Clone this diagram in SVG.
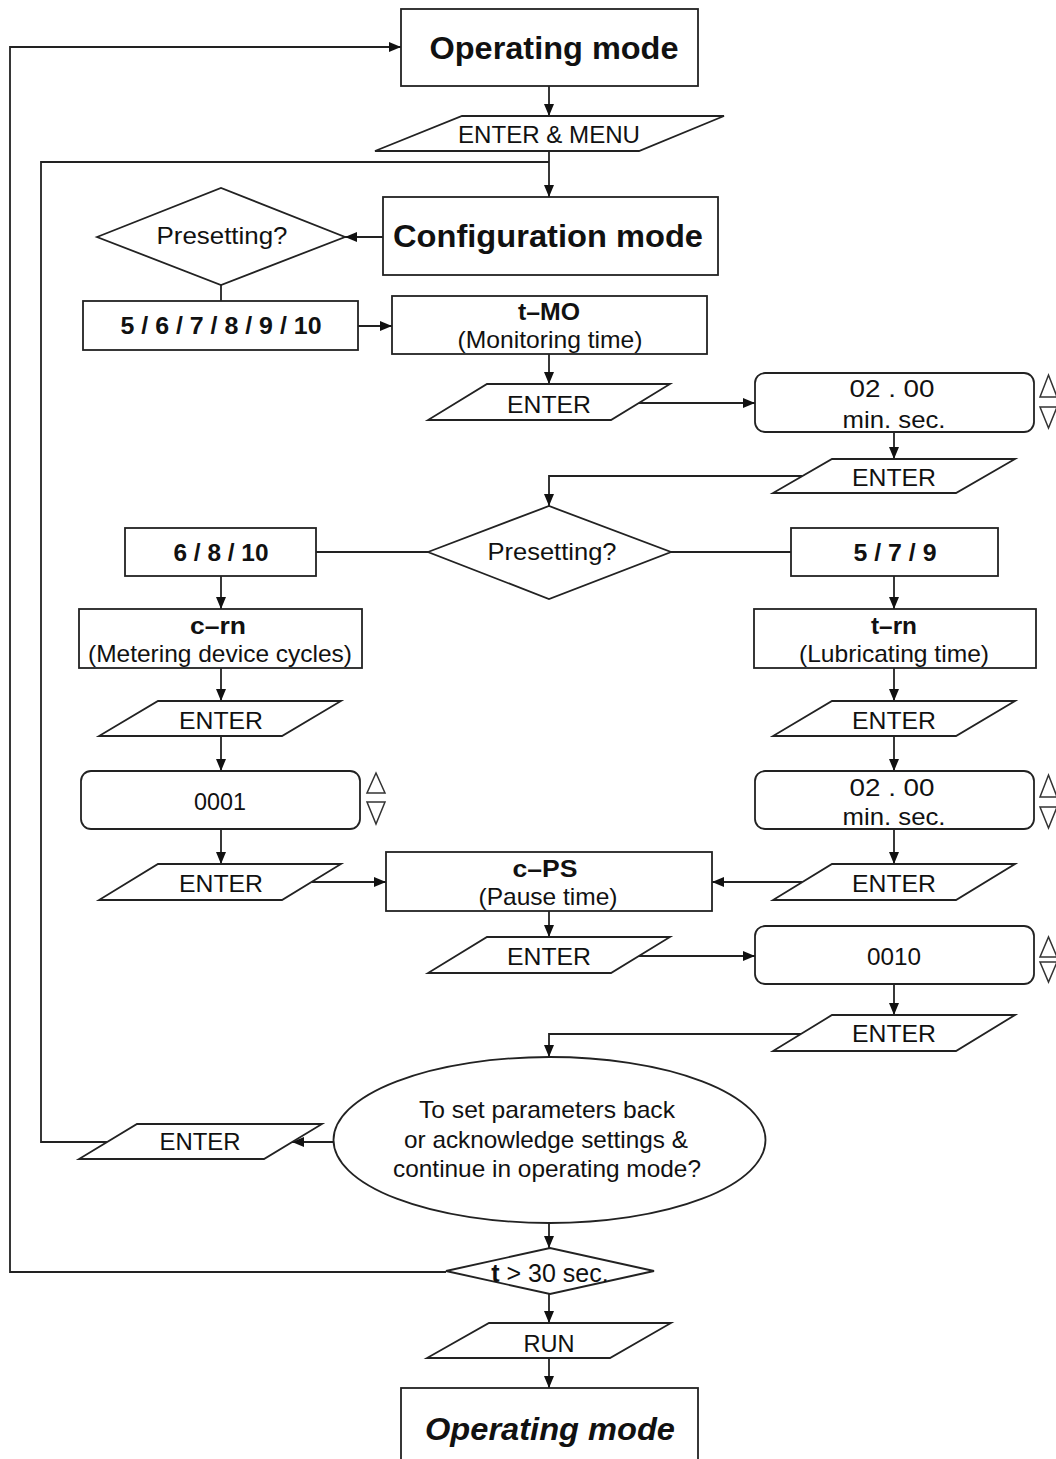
<svg xmlns="http://www.w3.org/2000/svg" width="1056" height="1459" viewBox="0 0 1056 1459">
<style>
.s{fill:#fff;stroke:#222;stroke-width:1.8}
.c{fill:none;stroke:#222;stroke-width:1.8}
.a{marker-end:url(#ah)}
.tri{fill:#fff;stroke:#333;stroke-width:1.5}
text{font-family:"Liberation Sans",Arial,sans-serif;font-size:24px;fill:#111;text-anchor:middle}
.b{font-weight:bold}
.big{font-size:32px;font-weight:bold}
</style>
<defs>
<marker id="ah" markerUnits="userSpaceOnUse" markerWidth="12" markerHeight="10" refX="12" refY="5" orient="auto">
<path d="M0,0 L12,5 L0,10 z" fill="#111"/>
</marker>
</defs>
<rect width="1056" height="1459" fill="#fff"/>

<g id="connectors">
<path class="c a" d="M446,1272 H10 V47 H401"/>
<path class="c a" d="M549,86 V116"/>
<path class="c" d="M107,1142 H41 V162 H549"/>
<path class="c a" d="M549,151 V197"/>
<path class="c a" d="M383,237 H345"/>
<path class="c" d="M221,285 V301"/>
<path class="c a" d="M358,326 H392"/>
<path class="c a" d="M549,354 V384"/>
<path class="c a" d="M639,403 H755"/>
<path class="c a" d="M894,432 V459"/>
<path class="c a" d="M802,476 H549 V506"/>
<path class="c" d="M428,552 H316"/>
<path class="c" d="M671,552 H791"/>
<path class="c a" d="M221,576 V609"/>
<path class="c a" d="M894,576 V609"/>
<path class="c a" d="M221,668 V701"/>
<path class="c a" d="M894,668 V701"/>
<path class="c a" d="M221,736 V771"/>
<path class="c a" d="M894,736 V771"/>
<path class="c a" d="M221,829 V864"/>
<path class="c a" d="M894,829 V864"/>
<path class="c a" d="M312,882 H386"/>
<path class="c a" d="M802,882 H712"/>
<path class="c a" d="M549,911 V937"/>
<path class="c a" d="M639,956 H755"/>
<path class="c a" d="M894,984 V1015"/>
<path class="c a" d="M801,1034 H549 V1057"/>
<path class="c a" d="M333,1142 H292"/>
<path class="c a" d="M549,1223 V1248"/>
<path class="c a" d="M549,1294 V1323"/>
<path class="c a" d="M549,1358 V1388"/>
</g>

<g id="op-mode-top">
<rect class="s" x="401" y="9" width="297" height="77"/>
<text class="big" x="554" y="59" textLength="249" lengthAdjust="spacingAndGlyphs">Operating mode</text>
</g>
<g id="enter-menu">
<polygon class="s" points="375,151 639,151 724,116 462,116"/>
<text x="549" y="143" textLength="182" lengthAdjust="spacingAndGlyphs">ENTER &amp; MENU</text>
</g>
<g id="config-mode">
<rect class="s" x="383" y="197" width="335" height="78"/>
<text class="big" x="548" y="247" textLength="310" lengthAdjust="spacingAndGlyphs">Configuration mode</text>
</g>
<g id="presetting-1">
<polygon class="s" points="97,237 221,188 345,237 221,285"/>
<text x="222" y="244" textLength="131" lengthAdjust="spacingAndGlyphs">Presetting?</text>
</g>
<g id="preset-all">
<rect class="s" x="83" y="301" width="275" height="49"/>
<text class="b" x="221" y="334" textLength="201" lengthAdjust="spacingAndGlyphs">5 / 6 / 7 / 8 / 9 / 10</text>
</g>
<g id="t-mo">
<rect class="s" x="392" y="296" width="315" height="58"/>
<text class="b" x="549" y="320" textLength="62" lengthAdjust="spacingAndGlyphs">t–MO</text>
<text x="550" y="348" textLength="185" lengthAdjust="spacingAndGlyphs">(Monitoring time)</text>
</g>
<g id="enter-1">
<polygon class="s" points="428,420 611,420 670,384 487,384"/>
<text x="549" y="413" textLength="84" lengthAdjust="spacingAndGlyphs">ENTER</text>
</g>
<g id="val-tmo">
<rect class="s" x="755" y="373" width="279" height="59" rx="10"/>
<text x="892" y="397" textLength="85" lengthAdjust="spacingAndGlyphs">02 . 00</text>
<text x="894" y="428" textLength="103" lengthAdjust="spacingAndGlyphs">min.  sec.</text>
<polygon class="tri" points="1040,397 1057,397 1048.5,375"/>
<polygon class="tri" points="1040,407 1057,407 1048.5,428"/>
</g>
<g id="enter-2">
<polygon class="s" points="773,493 956,493 1015,459 832,459"/>
<text x="894" y="486" textLength="84" lengthAdjust="spacingAndGlyphs">ENTER</text>
</g>
<g id="presetting-2">
<polygon class="s" points="428,552 549,506 671,552 549,599"/>
<text x="552" y="560" textLength="129" lengthAdjust="spacingAndGlyphs">Presetting?</text>
</g>
<g id="preset-even">
<rect class="s" x="125" y="528" width="191" height="48"/>
<text class="b" x="221" y="561" textLength="95" lengthAdjust="spacingAndGlyphs">6 / 8 / 10</text>
</g>
<g id="preset-odd">
<rect class="s" x="791" y="528" width="207" height="48"/>
<text class="b" x="895" y="561" textLength="83" lengthAdjust="spacingAndGlyphs">5 / 7 / 9</text>
</g>
<g id="c-rn">
<rect class="s" x="79" y="609" width="283" height="59"/>
<text class="b" x="218" y="634" textLength="56" lengthAdjust="spacingAndGlyphs">c–rn</text>
<text x="220" y="662" textLength="264" lengthAdjust="spacingAndGlyphs">(Metering device cycles)</text>
</g>
<g id="t-rn">
<rect class="s" x="754" y="609" width="282" height="59"/>
<text class="b" x="894" y="634" textLength="46" lengthAdjust="spacingAndGlyphs">t–rn</text>
<text x="894" y="662" textLength="190" lengthAdjust="spacingAndGlyphs">(Lubricating time)</text>
</g>
<g id="enter-3">
<polygon class="s" points="99,736 282,736 341,701 158,701"/>
<text x="221" y="729" textLength="84" lengthAdjust="spacingAndGlyphs">ENTER</text>
</g>
<g id="enter-4">
<polygon class="s" points="773,736 956,736 1015,701 832,701"/>
<text x="894" y="729" textLength="84" lengthAdjust="spacingAndGlyphs">ENTER</text>
</g>
<g id="val-crn">
<rect class="s" x="81" y="771" width="279" height="58" rx="10"/>
<text x="220" y="810" textLength="52" lengthAdjust="spacingAndGlyphs">0001</text>
<polygon class="tri" points="367,793 385,793 376,773"/>
<polygon class="tri" points="367,802 385,802 376,824"/>
</g>
<g id="val-trn">
<rect class="s" x="755" y="771" width="279" height="58" rx="10"/>
<text x="892" y="796" textLength="85" lengthAdjust="spacingAndGlyphs">02 . 00</text>
<text x="894" y="825" textLength="103" lengthAdjust="spacingAndGlyphs">min.  sec.</text>
<polygon class="tri" points="1040,797 1057,797 1048.5,775"/>
<polygon class="tri" points="1040,807 1057,807 1048.5,828"/>
</g>
<g id="enter-5">
<polygon class="s" points="99,900 282,900 341,864 158,864"/>
<text x="221" y="892" textLength="84" lengthAdjust="spacingAndGlyphs">ENTER</text>
</g>
<g id="enter-6">
<polygon class="s" points="773,900 956,900 1015,864 832,864"/>
<text x="894" y="892" textLength="84" lengthAdjust="spacingAndGlyphs">ENTER</text>
</g>
<g id="c-ps">
<rect class="s" x="386" y="852" width="326" height="59"/>
<text class="b" x="545" y="877" textLength="65" lengthAdjust="spacingAndGlyphs">c–PS</text>
<text x="548" y="905" textLength="139" lengthAdjust="spacingAndGlyphs">(Pause time)</text>
</g>
<g id="enter-7">
<polygon class="s" points="428,973 611,973 670,937 487,937"/>
<text x="549" y="965" textLength="84" lengthAdjust="spacingAndGlyphs">ENTER</text>
</g>
<g id="val-cps">
<rect class="s" x="755" y="926" width="279" height="58" rx="10"/>
<text x="894" y="965" textLength="54" lengthAdjust="spacingAndGlyphs">0010</text>
<polygon class="tri" points="1040,957 1057,957 1048.5,937"/>
<polygon class="tri" points="1040,962 1057,962 1048.5,982"/>
</g>
<g id="enter-8">
<polygon class="s" points="773,1051 956,1051 1015,1015 832,1015"/>
<text x="894" y="1042" textLength="84" lengthAdjust="spacingAndGlyphs">ENTER</text>
</g>
<g id="question">
<ellipse class="s" cx="549.5" cy="1140" rx="216" ry="83"/>
<text x="547" y="1118" textLength="256" lengthAdjust="spacingAndGlyphs">To set parameters back</text>
<text x="546" y="1148" textLength="284" lengthAdjust="spacingAndGlyphs">or acknowledge settings &amp;</text>
<text x="547" y="1177" textLength="308" lengthAdjust="spacingAndGlyphs">continue in operating mode?</text>
</g>
<g id="enter-9">
<polygon class="s" points="79,1159 264,1159 322,1124 137,1124"/>
<text x="200" y="1150" textLength="81" lengthAdjust="spacingAndGlyphs">ENTER</text>
</g>
<g id="timeout">
<polygon class="s" points="446,1271 550,1248 654,1271 550,1294"/>
<text x="550" y="1282" style="font-size:25px"><tspan class="b">t</tspan> &gt; 30 sec.</text>
</g>
<g id="run">
<polygon class="s" points="427,1358 610,1358 671,1323 489,1323"/>
<text x="549" y="1352" textLength="51" lengthAdjust="spacingAndGlyphs">RUN</text>
</g>
<g id="op-mode-bottom">
<rect class="s" x="401" y="1388" width="297" height="80"/>
<text class="big" x="550" y="1440" style="font-style:italic" textLength="250" lengthAdjust="spacingAndGlyphs">Operating mode</text>
</g>
</svg>
